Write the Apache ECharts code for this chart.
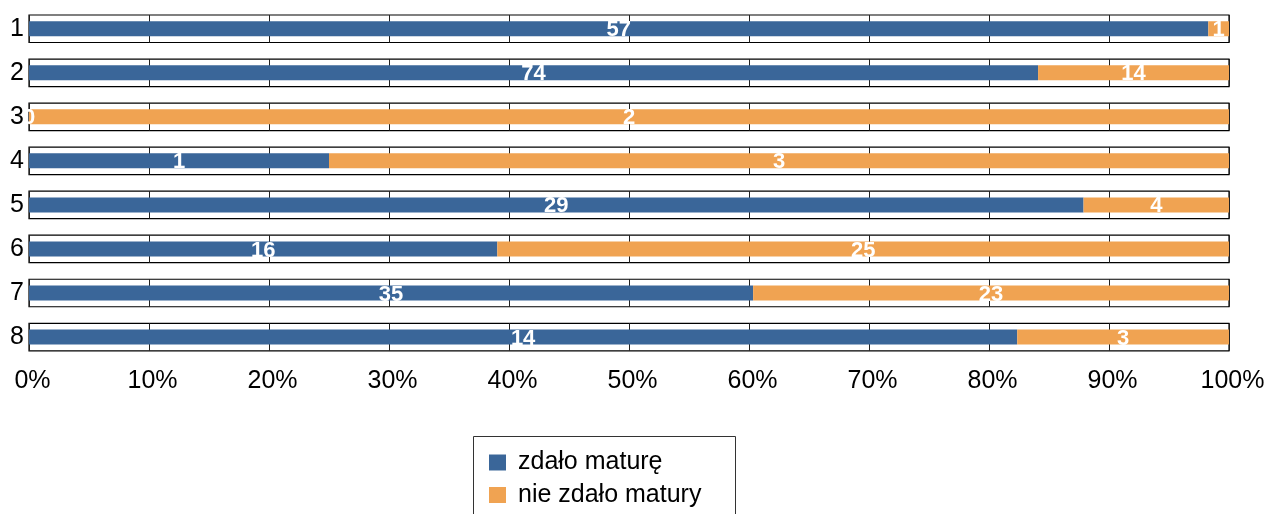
<!DOCTYPE html>
<html>
<head>
<meta charset="utf-8">
<script src="https://cdn.jsdelivr.net/npm/echarts@6/dist/echarts.min.js"></script>
<style>
html,body{margin:0;padding:0;background:#fff;}
#c{width:1271px;height:514px;}
</style>
</head>
<body>
<div id="c"></div>
<script>
var categories = ['1','2','3','4','5','6','7','8'];
var passed = [57, 74, 0, 1, 29, 16, 35, 14];
var failed = [1, 14, 2, 3, 4, 25, 23, 3];
var seriesNames = ['zdało maturę', 'nie zdało matury'];

var BLUE = '#3a6699', ORANGE = '#f0a352';
var FONT = 'Liberation Sans';
var chart = echarts.init(document.getElementById('c'));
var grids = [], xAxes = [], yAxes = [], series = [];
var n = categories.length;
for (var i = 0; i < n; i++) {
  var total = passed[i] + failed[i];
  var last = i === n - 1;
  grids.push({left: 29, width: 1200, top: 15 + 44.04 * i, height: 27.5, show: true, borderColor: '#000', borderWidth: 1.2, backgroundColor: 'transparent'});
  xAxes.push({
    type: 'value', gridIndex: i, min: 0, max: 100, interval: 10,
    axisLine: {show: false}, axisTick: {show: false},
    splitLine: {show: true, lineStyle: {color: '#222', width: 1}},
    axisLabel: {show: last, formatter: '{value}%', fontSize: 25, color: '#000', margin: 18, fontFamily: FONT, padding: [0, 0, 0, 7]}
  });
  yAxes.push({
    type: 'category', gridIndex: i, data: [categories[i]],
    axisLine: {show: false}, axisTick: {show: false},
    axisLabel: {fontSize: 25, color: '#000', margin: 5, fontFamily: FONT}
  });
  var lbl = {show: true, position: 'inside', color: '#fff', fontWeight: 'bold', fontSize: 22, fontFamily: FONT, offset: [0, 1.5],
             formatter: function (p) { return String(p.data.count); }};
  series.push({
    name: seriesNames[0], type: 'bar', stack: 's' + i, xAxisIndex: i, yAxisIndex: i, barWidth: 15,
    itemStyle: {color: BLUE}, label: lbl, silent: true,
    data: [{value: passed[i] / total * 100, count: passed[i]}]
  });
  series.push({
    name: seriesNames[1], type: 'bar', stack: 's' + i, xAxisIndex: i, yAxisIndex: i, barWidth: 15,
    itemStyle: {color: ORANGE}, label: lbl, silent: true,
    data: [{value: failed[i] / total * 100, count: failed[i]}]
  });
}
function leg(name, top) {
  return {
    data: [name], left: 489, top: top, padding: 0,
    itemWidth: 17, itemHeight: 16, icon: 'rect', selectedMode: false,
    textStyle: {fontSize: 25, color: '#000', fontFamily: FONT, padding: [0, 0, 0, 7]}
  };
}
chart.setOption({
  animation: false,
  grid: grids, xAxis: xAxes, yAxis: yAxes, series: series,
  legend: [leg(seriesNames[0], 450), leg(seriesNames[1], 482.5)],
  graphic: [{
    type: 'rect', shape: {x: 473.5, y: 436.5, width: 262, height: 100},
    style: {fill: 'none', stroke: '#333', lineWidth: 1}, silent: true
  }]
});
</script>
</body>
</html>
